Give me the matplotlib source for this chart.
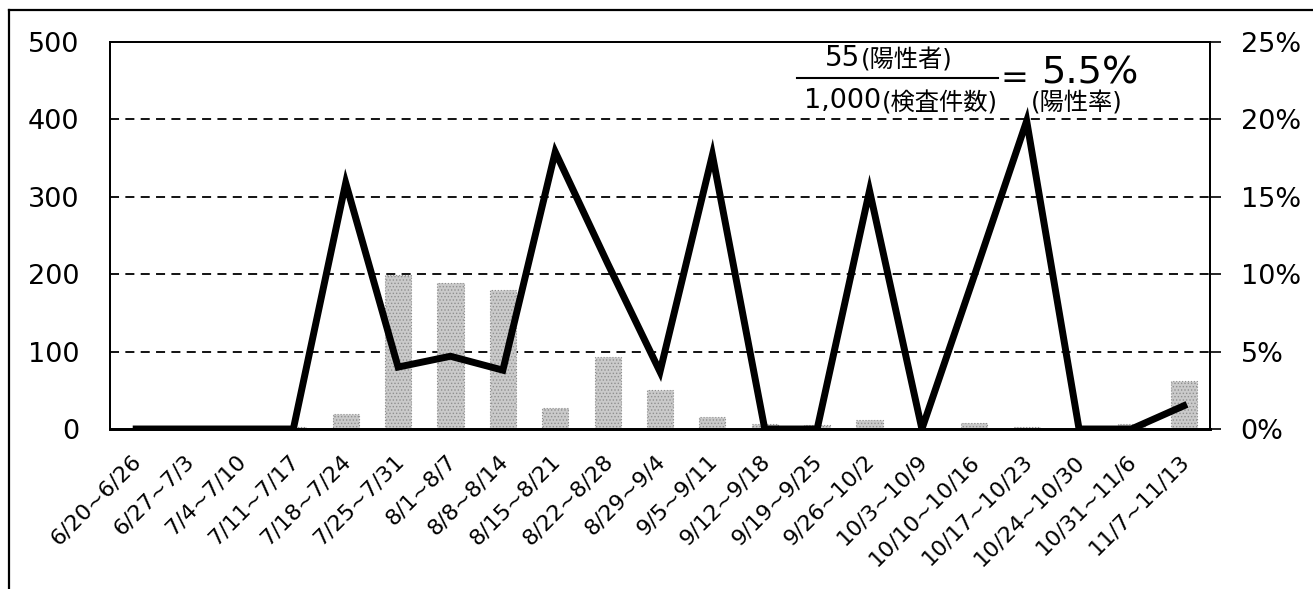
import matplotlib
matplotlib.use("Agg")
import matplotlib.pyplot as plt
import matplotlib.transforms as mtrans
from matplotlib.lines import Line2D

plt.rcParams['font.family'] = ['DejaVu Sans', 'Noto Sans CJK JP']
plt.rcParams['hatch.linewidth'] = 0.6

weeks = ["6/20~6/26", "6/27~7/3", "7/4~7/10", "7/11~7/17", "7/18~7/24",
         "7/25~7/31", "8/1~8/7", "8/8~8/14", "8/15~8/21", "8/22~8/28",
         "8/29~9/4", "9/5~9/11", "9/12~9/18", "9/19~9/25", "9/26~10/2",
         "10/3~10/9", "10/10~10/16", "10/17~10/23", "10/24~10/30",
         "10/31~11/6", "11/7~11/13"]
tests = [0, 0, 0, 2, 19, 199, 189, 180, 27, 93, 50, 16, 6, 5, 12, 0, 8, 2, 0, 7, 62]
positive_rate = [0, 0, 0, 0, 15.9, 4.0, 4.7, 3.8, 17.9, 10.7, 3.7, 17.7, 0, 0,
                 15.4, 0, 9.9, 19.9, 0, 0, 1.5]
left_ticks = [0, 100, 200, 300, 400, 500]
right_ticks = [0, 5, 10, 15, 20, 25]

fig = plt.figure(figsize=(13.13, 5.89), dpi=100)
ax = fig.add_axes([110/1313, 1-429/589, 1100/1313, 387/589])
ax2 = ax.twinx()

x = list(range(len(weeks)))
ax.bar(x, tests, width=0.5, color='#cacaca', edgecolor='#8f8f8f', hatch='.....',
       linewidth=0.8, linestyle=':', zorder=2)
ax.set_ylim(0, 500)
ax.set_xlim(-0.5, len(weeks) - 0.5)
ax.set_yticks(left_ticks)
ax.set_yticklabels([str(v) for v in left_ticks], fontsize=19.5)
ax.tick_params(axis='y', length=0, pad=22)
for v in left_ticks[1:-1]:
    ax.axhline(v, color='black', linestyle=(0, (5, 3.5)), linewidth=1.3, zorder=1)

ax.set_xticks(x)
ax.set_xticklabels(weeks, rotation=45, ha='right', rotation_mode='anchor', fontsize=16)
ax.tick_params(axis='x', length=0, pad=16)
shift = mtrans.ScaledTranslation(-5/100, 0, fig.dpi_scale_trans)
for lab in ax.get_xticklabels():
    lab.set_transform(lab.get_transform() + shift)

ax2.plot(x, positive_rate, color='black', linewidth=5, solid_joinstyle='miter', zorder=5)
ax2.set_ylim(0, 25)
ax2.set_yticks(right_ticks)
ax2.set_yticklabels([f"{v}%" for v in right_ticks], fontsize=19.5)
ax2.tick_params(axis='y', length=8, width=1.2, pad=14, direction='out')

for a in (ax, ax2):
    for s in a.spines.values():
        s.set_linewidth(1.3)
    a.spines['bottom'].set_linewidth(2)

# fraction annotation
tx = lambda px: px / 1313
ty = lambda py: 1 - py / 589
fig.text(tx(860), ty(58), "55", fontsize=20, ha='right', va='center')
fig.text(tx(861), ty(60), "(陽性者)", fontsize=17.5, ha='left', va='center')
fig.add_artist(Line2D([tx(797), tx(998)], [ty(78), ty(78)], color='black', linewidth=1.5))
fig.text(tx(1000), ty(79), "=", fontsize=24, ha='left', va='center')
fig.text(tx(1041), ty(73), "5.5%", fontsize=27.5, ha='left', va='center')
fig.text(tx(881), ty(101), "1,000", fontsize=19.5, ha='right', va='center')
fig.text(tx(882), ty(103), "(検査件数)", fontsize=17.5, ha='left', va='center')
fig.text(tx(1031), ty(103), "(陽性率)", fontsize=17.5, ha='left', va='center')

# outer frame (left and top edges)
fig.add_artist(Line2D([tx(9), tx(9)], [ty(10), 0], color='black', linewidth=1.6))
fig.add_artist(Line2D([tx(9), 1], [ty(10), ty(10)], color='black', linewidth=1.6))

fig.savefig("out.png", dpi=100)
